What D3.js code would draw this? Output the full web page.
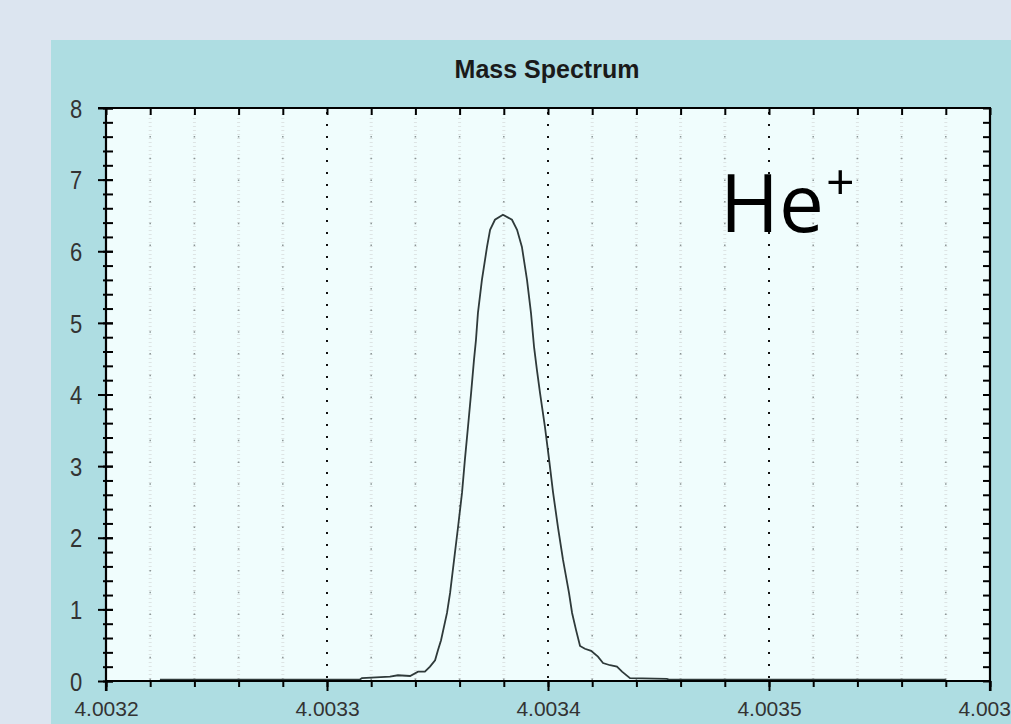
<!DOCTYPE html>
<html><head><meta charset="utf-8">
<script src="https://cdn.jsdelivr.net/npm/d3@7"></script>
<style>html,body{margin:0;padding:0;background:#dce5f0;overflow:hidden}svg{display:block}</style>
</head><body>
<svg id="c" width="1011" height="724"></svg>
<script>
const title = "Mass Spectrum";
const xMajorTicks = [4.0032, 4.0033, 4.0034, 4.0035, 4.0036];
const yMajorTicks = [0, 1, 2, 3, 4, 5, 6, 7, 8];
const massValues = [4.0032244,4.0033149,4.0033158,4.0033285,4.0033321,4.0033376,4.0033412,4.0033443,4.0033466,4.0033489,4.0033502,4.0033516,4.0033543,4.0033557,4.0033575,4.0033593,4.0033611,4.0033624,4.0033638,4.0033652,4.0033665,4.0033674,4.0033683,4.0033701,4.0033724,4.0033738,4.003376,4.0033796,4.0033837,4.003386,4.0033882,4.0033905,4.0033923,4.0033937,4.003395,4.0033964,4.0033986,4.0034005,4.0034023,4.0034045,4.0034068,4.0034095,4.0034109,4.0034127,4.0034145,4.0034167,4.0034195,4.0034226,4.0034249,4.0034281,4.0034312,4.0034335,4.0034371,4.0034538,4.0034547,4.00358];
const intensity = [0.02,0.02,0.04,0.06,0.08,0.07,0.13,0.13,0.2,0.29,0.43,0.57,0.95,1.23,1.69,2.15,2.63,3.09,3.55,4.02,4.48,4.76,5.14,5.6,6.06,6.3,6.44,6.51,6.44,6.3,6.06,5.6,5.14,4.66,4.34,4.02,3.55,3.09,2.63,2.15,1.69,1.23,0.95,0.71,0.49,0.45,0.42,0.34,0.25,0.22,0.2,0.13,0.04,0.03,0.02,0.02];
const label = "He", labelSup = "+";

const svg = d3.select("#c");
const L = 106, R = 990, T = 108, B = 681;
const x = d3.scaleLinear().domain([4.0032, 4.0036]).range([L, R]);
const y = d3.scaleLinear().domain([0, 8]).range([B, T]);

svg.append("rect").attr("x", 51).attr("y", 40).attr("width", 960).attr("height", 684).attr("fill", "#aedde2");
svg.append("rect").attr("x", L).attr("y", T).attr("width", R - L).attr("height", B - T).attr("fill", "#f0fdfd");

const xMinor = d3.range(0, 21).map(i => 4.0032 + i * 0.00002);
const yMinor = d3.range(0, 41).map(i => i * 0.2);

// faint minor grid columns
const g = svg.append("g");
xMinor.forEach((v, i) => {
  if (i % 5 === 0) return;
  g.append("line").attr("x1", x(v)).attr("x2", x(v)).attr("y1", T + 6).attr("y2", B)
    .attr("stroke", "#dde4e4").attr("stroke-width", 3).attr("stroke-dasharray", "1,3");
  g.append("line").attr("x1", x(v)).attr("x2", x(v)).attr("y1", T + 28).attr("y2", B)
    .attr("stroke", "#8a9494").attr("stroke-width", 1.5).attr("stroke-dasharray", "1.5,20.2");
});
// major dotted grid
xMajorTicks.slice(1, -1).forEach(v => {
  g.append("line").attr("x1", x(v)).attr("x2", x(v)).attr("y1", T + 4).attr("y2", B)
    .attr("stroke", "#111").attr("stroke-width", 2).attr("stroke-dasharray", "2,10");
});

// curve
svg.append("path").datum(massValues.map((m, i) => [m, intensity[i]]))
  .attr("fill", "none").attr("stroke", "#2f3a3a").attr("stroke-width", 1.8)
  .attr("d", d3.line().x(d => x(d[0])).y(d => y(d[1])));

// axes
const tickStyle = sel => sel.selectAll("line").attr("stroke", "#000").attr("stroke-width", 2);
const bottomMinor = svg.append("g").attr("transform", `translate(0,${B})`)
  .call(d3.axisBottom(x).tickValues(xMinor).tickSize(6).tickFormat(""));
bottomMinor.select(".domain").remove(); tickStyle(bottomMinor);
const bottom = svg.append("g").attr("transform", `translate(0,${B})`)
  .call(d3.axisBottom(x).tickValues(xMajorTicks).tickSize(10).tickFormat(d3.format(".4f")));
bottom.select(".domain").remove(); tickStyle(bottom);
bottom.selectAll("text").attr("font-family", "Liberation Sans, Arial, sans-serif").attr("font-size", 21)
  .attr("fill", "#333").attr("y", 0).attr("dy", 0).attr("transform", "translate(0,35)");

const topMinor = svg.append("g").attr("transform", `translate(0,${T})`)
  .call(d3.axisBottom(x).tickValues(xMinor).tickSize(7).tickFormat(""));
topMinor.select(".domain").remove(); tickStyle(topMinor);

const leftMinor = svg.append("g").attr("transform", `translate(${L},0)`)
  .call(d3.axisLeft(y).tickValues(yMinor).tickSize(3).tickFormat(""));
leftMinor.select(".domain").remove(); tickStyle(leftMinor);
leftMinor.selectAll("line").attr("x2", -3).attr("x1", 7);
const left = svg.append("g").attr("transform", `translate(${L},0)`)
  .call(d3.axisLeft(y).tickValues(yMajorTicks).tickSize(8).tickFormat(d3.format("d")));
left.select(".domain").remove(); tickStyle(left);
left.selectAll("line").attr("x2", -8).attr("x1", 7);
left.selectAll("text").attr("font-family", "Liberation Sans, Arial, sans-serif").attr("font-size", 22)
  .attr("fill", "#333").attr("x", 0).attr("dy", 0).attr("text-anchor", "middle")
  .attr("transform", "translate(-30,0) scale(1,1.2)")
  .attr("dominant-baseline", "central");

const rightMinor = svg.append("g").attr("transform", `translate(${R},0)`)
  .call(d3.axisLeft(y).tickValues(yMinor).tickSize(7).tickFormat(""));
rightMinor.select(".domain").remove(); tickStyle(rightMinor);

// frame
const frame = svg.append("g").attr("stroke", "#000").attr("stroke-width", 2.2).attr("fill", "none");
frame.append("line").attr("x1", 98).attr("x2", R + 1).attr("y1", T).attr("y2", T);
frame.append("line").attr("x1", L).attr("x2", R + 1).attr("y1", B).attr("y2", B);
frame.append("line").attr("x1", L).attr("x2", L).attr("y1", T).attr("y2", B + 10);
frame.append("line").attr("x1", R).attr("x2", R).attr("y1", T).attr("y2", B + 10);

// title
svg.append("text").attr("x", 547).attr("y", 78).attr("text-anchor", "middle")
  .attr("font-family", "Liberation Sans, Arial, sans-serif").attr("font-weight", "bold")
  .attr("font-size", 25).attr("fill", "#1a1a1a").text(title);

// annotation
const ann = svg.append("text").attr("x", 720).attr("y", 232)
  .attr("font-family", "Open Sans, sans-serif").attr("font-size", 80).attr("fill", "#000");
ann.append("tspan").text(label);
ann.append("tspan").attr("font-size", 50).attr("dy", -32).attr("dx", 2).text(labelSup);
</script>
</body></html>
